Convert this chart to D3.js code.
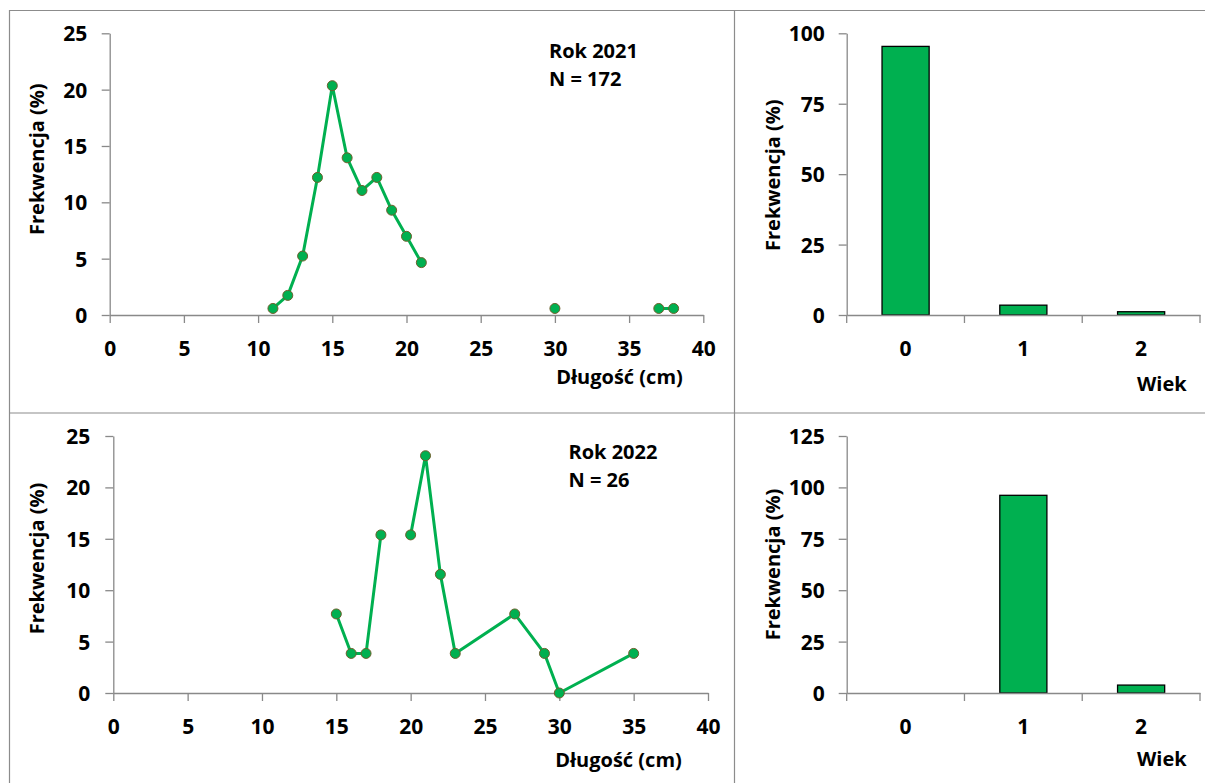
<!DOCTYPE html>
<html>
<head>
<meta charset="utf-8">
<script src="https://cdn.jsdelivr.net/npm/d3@7/dist/d3.min.js"></script>
<style>
  html, body { margin: 0; padding: 0; background: #fff; }
  svg { display: block; }
  text { font-family: "Open Sans", "Noto Sans", sans-serif; font-weight: 700; fill: #000; }
</style>
</head>
<body>
<svg id="chart" width="1205" height="783"></svg>
<script>
// Length-frequency distribution, 2021 (N = 172)
const lengths2021 = [11, 12, 13, 14, 15, 16, 17, 18, 19, 20, 21, 30, 37, 38];
const freq2021    = [0.58, 1.74, 5.23, 12.21, 20.35, 13.95, 11.05, 12.21, 9.30, 6.98, 4.65, 0.58, 0.58, 0.58];
const breaks2021  = [21, 30];          // line is interrupted after these lengths
// Length-frequency distribution, 2022 (N = 26)
const lengths2022 = [15, 16, 17, 18, 20, 21, 22, 23, 27, 29, 30, 35];
const freq2022    = [7.69, 3.85, 3.85, 15.38, 15.38, 23.08, 11.54, 3.85, 7.69, 3.85, 0, 3.85];
const breaks2022  = [18];
// Age structure
const ages        = ["0", "1", "2"];
const ageFreq2021 = [95.35, 3.49, 1.16];
const ageFreq2022 = [0, 96.15, 3.85];
// Axis ticks and labels
const lengthTicks = [0, 5, 10, 15, 20, 25, 30, 35, 40];
const freqTicks   = [0, 5, 10, 15, 20, 25];
const ageTicks2021 = [0, 25, 50, 75, 100];
const ageTicks2022 = [0, 25, 50, 75, 100, 125];
const yTitle = "Frekwencja (%)";
const xTitleLen = "Długość (cm)";
const xTitleAge = "Wiek";
const yearLabels = ["Rok 2021", "Rok 2022"];
const nLabels = ["N = 172", "N = 26"];

const GREEN = "#00b050";
const AXIS = "#898989";
const TICK_FONT = 21;
const LABEL_FONT = 20;
const svg = d3.select("#chart");

// panel frame lines
const frame = svg.append("g").attr("stroke", "#8c8c8c").attr("stroke-width", 1.2);
frame.append("line").attr("x1", 9).attr("x2", 1205).attr("y1", 10.5).attr("y2", 10.5);
frame.append("line").attr("x1", 9.5).attr("x2", 9.5).attr("y1", 10).attr("y2", 783);
frame.append("line").attr("x1", 734.5).attr("x2", 734.5).attr("y1", 10).attr("y2", 783);
frame.append("line").attr("x1", 9).attr("x2", 1205).attr("y1", 413).attr("y2", 413);

function styleAxis(g) {
  g.selectAll("path.domain").attr("stroke", AXIS).attr("stroke-width", 1.3);
  g.selectAll(".tick line").attr("stroke", AXIS).attr("stroke-width", 1.3);
  g.selectAll(".tick text").attr("font-size", TICK_FONT).attr("font-family", "Open Sans").attr("font-weight", 700).attr("fill", "#000");
}

function yAxisTitle(cx, cy) {
  svg.append("text")
    .attr("transform", `translate(${cx},${cy}) rotate(-90)`)
    .attr("text-anchor", "middle").attr("dominant-baseline", "central")
    .attr("font-size", LABEL_FONT).text(yTitle);
}

function lengthPanel(p) {
  const x = d3.scaleLinear().domain([0, 40]).range([p.x0, p.x1]);
  const y = d3.scaleLinear().domain([0, 25]).range([p.y0, p.y1]);

  const gy = svg.append("g").attr("transform", `translate(${p.x0},0)`)
    .call(d3.axisLeft(y).tickValues(freqTicks).tickSize(8).tickSizeOuter(0).tickPadding(p.yPad));
  gy.selectAll(".tick text").attr("dy", "0.36em");
  styleAxis(gy);

  const gx = svg.append("g").attr("transform", `translate(0,${p.y0})`)
    .call(d3.axisBottom(x).tickValues(lengthTicks).tickSize(8).tickSizeOuter(0).tickPadding(18));
  styleAxis(gx);
  gx.selectAll(".tick text").attr("dy", "0.71em");

  // points joined in runs, interrupted after the listed break lengths
  const pts = [];
  p.lengths.forEach((l, i) => {
    pts.push({ l, v: p.freq[i] });
    if (p.breaks.includes(l)) pts.push(null);
  });
  const line = d3.line().defined(d => d !== null).x(d => x(d.l)).y(d => y(d.v));
  svg.append("path").datum(pts)
    .attr("fill", "none").attr("stroke", GREEN).attr("stroke-width", 3)
    .attr("stroke-linejoin", "round").attr("d", line);

  svg.append("g").selectAll("circle")
    .data(p.lengths.map((l, i) => ({ l, v: p.freq[i] })))
    .join("circle")
    .attr("cx", d => x(d.l)).attr("cy", d => y(d.v)).attr("r", 5)
    .attr("fill", GREEN).attr("stroke", "#6e5f2c").attr("stroke-width", 1);

  yAxisTitle(36, (p.y0 + p.y1) / 2 + p.titleShift);
  svg.append("text").attr("x", p.xTitleX).attr("y", p.xTitleY)
    .attr("text-anchor", "middle").attr("font-size", LABEL_FONT).text(xTitleLen);
  svg.append("text").attr("x", p.labelX).attr("y", p.labelY)
    .attr("font-size", LABEL_FONT).text(p.year);
  svg.append("text").attr("x", p.labelX).attr("y", p.labelY + 28)
    .attr("font-size", LABEL_FONT).text(p.n);
}

function agePanel(p) {
  const x = d3.scaleBand().domain(ages).range([p.x0, p.x1]).paddingInner(0.6).paddingOuter(0.3);
  const y = d3.scaleLinear().domain([0, p.max]).range([p.y0, p.y1]);

  const gy = svg.append("g").attr("transform", `translate(${p.x0},0)`)
    .call(d3.axisLeft(y).tickValues(p.ticks).tickSize(8).tickSizeOuter(0).tickPadding(14));
  gy.selectAll(".tick text").attr("dy", "0.36em");
  styleAxis(gy);

  svg.append("g").selectAll("rect")
    .data(ages.map((a, i) => ({ a, v: p.values[i] })))
    .join("rect")
    .attr("x", d => x(d.a)).attr("width", x.bandwidth())
    .attr("y", d => y(d.v)).attr("height", d => y(0) - y(d.v))
    .attr("fill", GREEN).attr("stroke", d => d.v > 0 ? "#000" : "none").attr("stroke-width", 1.3);

  // category axis: labels centred in each band, ticks at band boundaries
  const gx = svg.append("g").attr("transform", `translate(0,${p.y0})`)
    .call(d3.axisBottom(x).tickSize(0).tickSizeOuter(0).tickPadding(26));
  styleAxis(gx);
  gx.selectAll(".tick text").attr("dy", "0.71em");
  const step = x.step();
  gx.selectAll("line.bound").data(d3.range(ages.length + 1)).join("line")
    .attr("class", "bound")
    .attr("x1", i => p.x0 + i * step).attr("x2", i => p.x0 + i * step)
    .attr("y1", 0).attr("y2", 8).attr("stroke", AXIS).attr("stroke-width", 1.3);

  yAxisTitle(772.5, (p.y0 + p.y1) / 2 + p.titleShift);
  svg.append("text").attr("x", 1137).attr("y", p.xTitleY)
    .attr("font-size", LABEL_FONT).text(xTitleAge);
}

lengthPanel({ x0: 109.7, x1: 703.3, y0: 315, y1: 33.3, yPad: 14.5,
  lengths: lengths2021, freq: freq2021, breaks: breaks2021, titleShift: -15,
  xTitleX: 619.5, xTitleY: 384, labelX: 549, labelY: 57.5,
  year: yearLabels[0], n: nLabels[0] });
lengthPanel({ x0: 113.3, x1: 708, y0: 693, y1: 436, yPad: 15,
  lengths: lengths2022, freq: freq2022, breaks: breaks2022, titleShift: -6,
  xTitleX: 618.5, xTitleY: 767, labelX: 568.5, labelY: 458.5,
  year: yearLabels[1], n: nLabels[1] });

agePanel({ x0: 846.7, x1: 1200, y0: 315, y1: 33.3, max: 100, ticks: ageTicks2021,
  values: ageFreq2021, titleShift: 1, xTitleY: 390.5 });
agePanel({ x0: 846.7, x1: 1200, y0: 693, y1: 436, max: 125, ticks: ageTicks2022,
  values: ageFreq2022, titleShift: 0, xTitleY: 765.5 });
</script>
</body>
</html>
